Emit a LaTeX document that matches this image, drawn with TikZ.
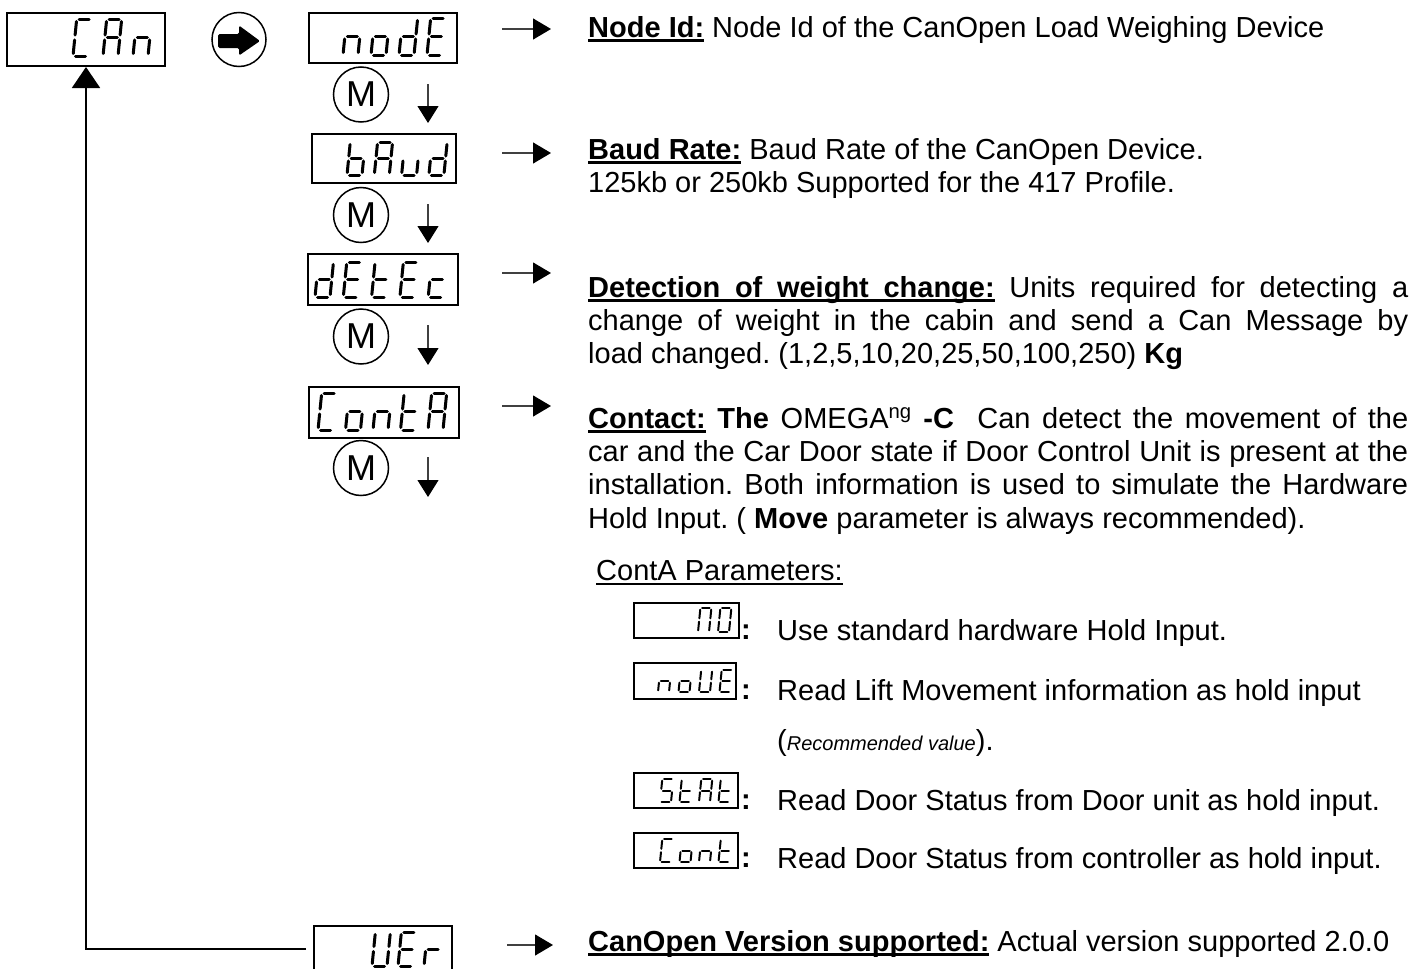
\documentclass[tikz,border=0pt]{standalone}
\usepackage{fontspec}
\setmainfont{Liberation Sans}
\usetikzlibrary{arrows.meta}
\frenchspacing
\newsavebox\ulbx
\newcommand\hul[1]{\sbox\ulbx{#1}\rlap{\rule[-5pt]{\wd\ulbx}{2.6pt}}\usebox\ulbx}
\newcommand\hulthin[1]{\sbox\ulbx{#1}\rlap{\rule[-4.5pt]{\wd\ulbx}{1.6pt}}\usebox\ulbx}
\newcommand\ulsp{\leaders\hrule height -2.4pt depth 5pt\hskip\fontdimen2\font plus\fontdimen3\font minus\fontdimen4\font\relax}
% seven segment definitions
\def\segA{0/1/1/1}
\def\segB{1/1/1/.5}
\def\segC{1/.5/1/0}
\def\segD{0/0/1/0}
\def\segE{0/0/0/.5}
\def\segF{0/.5/0/1}
\def\segG{0/.5/1/.5}
\edef\SSGC{\segA,\segD,\segE,\segF}
\edef\SSGA{\segA,\segB,\segC,\segE,\segF,\segG}
\edef\SSGn{\segC,\segE,\segG}
\edef\SSGo{\segC,\segD,\segE,\segG}
\edef\SSGd{\segB,\segC,\segD,\segE,\segG}
\edef\SSGE{\segA,\segD,\segE,\segF,\segG}
\edef\SSGb{\segC,\segD,\segE,\segF,\segG}
\edef\SSGu{\segC,\segD,\segE}
\edef\SSGt{\segD,\segE,\segF,\segG}
\edef\SSGc{\segD,\segE,\segG}
\edef\SSGU{\segB,\segC,\segD,\segE,\segF}
\edef\SSGr{\segE,\segG}
\edef\SSGS{\segA,\segC,\segD,\segF,\segG}
\edef\SSGP{\segA,\segB,\segC,\segE,\segF}
\edef\SSGO{\segA,\segB,\segC,\segD,\segE,\segF}
\newcommand\ssword[7][segbig]{%
  \foreach \L [count=\i from 0] in {#7}{%
    \edef\cur{\csname SSG\L\endcsname}%
    \begin{scope}[shift={({#2+\i*#6},#3)},x={(#4pt,0pt)},y={(0pt,#5pt)},xslant=0.1]
      \foreach \xa/\ya/\xb/\yb in \cur {\draw[#1] (\xa,\ya) -- (\xb,\yb);}
    \end{scope}}}
\begin{document}
\begin{tikzpicture}[x=1pt,y=-1pt,
  txt/.style={inner sep=0pt, anchor=base west, font=\fontsize{29}{33}\selectfont},
  disp/.style={draw, line width=2pt, inner sep=0pt},
  segbig/.style={line width=3pt, line cap=round, shorten <=2.5pt, shorten >=2.5pt},
  segsmall/.style={line width=2pt, line cap=round, shorten <=1.7pt, shorten >=1.7pt},
  mcirc/.style={circle, draw, line width=1.5pt, minimum size=55pt, inner sep=0pt, font=\fontsize{36}{36}\selectfont},
  rarrow/.style={line width=1.2pt, draw=black!75, -{Triangle[length=18pt,width=21pt,color=black]}},
  darrow/.style={line width=1.1pt, draw=black!75, -{Triangle[length=17pt,width=21pt,color=black]}},
  conn/.style={line width=1.8pt, -{Triangle[length=21pt,width=28pt]}}]
\useasboundingbox (0,0) rectangle (1425,969);
\clip (0,0) rectangle (1425,969);
\fill[white] (0,0) rectangle (1425,969);

% display boxes
\node[disp, minimum width=158pt, minimum height=53pt] (CAn) at (86,39.5) {};
\node[disp, minimum width=148pt, minimum height=50pt] (nodE) at (383,38) {};
\node[disp, minimum width=144pt, minimum height=49pt] (bAud) at (384,158.5) {};
\node[disp, minimum width=150pt, minimum height=51pt] (dEtEc) at (383,279.5) {};
\node[disp, minimum width=150pt, minimum height=51pt] (ContA) at (384,412.5) {};
\node[disp, minimum width=138pt, minimum height=64pt] (UEr) at (383,958) {};
\node[disp, minimum width=105pt, minimum height=35pt] (P1) at (686.5,620.5) {};
\node[disp, minimum width=102pt, minimum height=36pt] (P2) at (685,681) {};
\node[disp, minimum width=104pt, minimum height=35pt] (P3) at (686,790.5) {};
\node[disp, minimum width=104pt, minimum height=35pt] (P4) at (686,850.5) {};

% seven segment texts
\ssword{73}{56}{15}{37}{30}{C,A,n}
\ssword{343}{55}{15}{37}{28}{n,o,d,E}
\ssword{347}{175}{15}{33}{27.3}{b,A,u,d}
\ssword{315}{297}{15}{35}{28.3}{d,E,t,E,c}
\ssword{318}{430}{15}{37}{27.5}{C,o,n,t,A}
\ssword{372}{966}{15}{34}{26}{U,E,r}
\ssword[segsmall]{698}{632}{11}{24}{20}{P,O}
\ssword[segsmall]{658}{692}{11}{22}{20.5}{n,o,U,E}
\ssword[segsmall]{660}{802}{11}{23}{19.5}{S,t,A,t}
\ssword[segsmall]{660}{862}{11}{23}{19.5}{C,o,n,t}

% circled arrow
\node[circle, draw, line width=1.5pt, minimum size=54pt, inner sep=0pt] (go) at (239,39.5) {};
\begin{scope}[shift={(go.center)}]
\fill[rounded corners=1.5pt] (-21,-5.5) -- (0,-5.5) -- (0,-14) -- (21,1.5) -- (0,16) -- (0,8.5) -- (-21,8.5) -- cycle;
\end{scope}

% M circles
\node[mcirc] (m1) at (361,94.5) {M};
\node[mcirc] (m2) at (361,215) {M};
\node[mcirc] (m3) at (361,336.5) {M};
\node[mcirc] (m4) at (361,468) {M};

% down arrows
\coordinate (d1s) at (428,84); \coordinate (d1e) at (428,123);
\coordinate (d2s) at (428,204); \coordinate (d2e) at (428,243);
\coordinate (d3s) at (428,325); \coordinate (d3e) at (428,365);
\coordinate (d4s) at (428,457); \coordinate (d4e) at (428,497);
\draw[darrow] (d1s) -- (d1e);
\draw[darrow] (d2s) -- (d2e);
\draw[darrow] (d3s) -- (d3e);
\draw[darrow] (d4s) -- (d4e);

% right arrows
\coordinate (r1s) at (502,29);  \coordinate (r1e) at (551,29);
\coordinate (r2s) at (502,153); \coordinate (r2e) at (551,153);
\coordinate (r3s) at (502,273); \coordinate (r3e) at (551,273);
\coordinate (r4s) at (502,406); \coordinate (r4e) at (551,406);
\coordinate (r5s) at (507,945); \coordinate (r5e) at (553,945);
\draw[rarrow] (r1s) -- (r1e);
\draw[rarrow] (r2s) -- (r2e);
\draw[rarrow] (r3s) -- (r3e);
\draw[rarrow] (r4s) -- (r4e);
\draw[rarrow] (r5s) -- (r5e);

% return connector
\coordinate (back) at (306,949);
\draw[conn] (back) -| (CAn.south);

% texts
\node[txt] (tnode) at (588,37) {\textbf{\hul{Node}\ulsp\hul{Id:}} Node Id of the CanOpen Load Weighing Device};
\node[txt] (tbaud1) at (588,159) {\textbf{\hul{Baud}\ulsp\hul{Rate:}} Baud Rate of the CanOpen Device.};
\node[txt] (tbaud2) at (588,192) {125kb or 250kb Supported for the 417 Profile.};
\node[txt] (tdet1) at (588,297) {\makebox[820pt][s]{\textbf{\hul{Detection}\ulsp\hul{of}\ulsp\hul{weight}\ulsp\hul{change:}} Units required for detecting a}};
\node[txt] (tdet2) at (588,330) {\makebox[820pt][s]{change of weight in the cabin and send a Can Message by}};
\node[txt] (tdet3) at (588,363) {load changed. (1,2,5,10,20,25,50,100,250) \textbf{Kg}};
\node[txt] (tcon1) at (588,428) {\makebox[820pt][s]{\textbf{\hul{Contact:} The} OMEGA\textsuperscript{ng} \textbf{-C}\ \ Can detect the movement of the}};
\node[txt] (tcon2) at (588,461.3) {\makebox[820pt][s]{car and the Car Door state if Door Control Unit is present at the}};
\node[txt] (tcon3) at (588,494.6) {\makebox[820pt][s]{installation. Both information is used to simulate the Hardware}};
\node[txt] (tcon4) at (588,528) {Hold Input. ( \textbf{Move} parameter is always recommended).};
\node[txt] (tpar) at (596,580) {\hulthin{ContA Parameters:}};

\node[txt] (c1) at (741,639) {\textbf{:}};
\node[txt] (c2) at (741,699) {\textbf{:}};
\node[txt] (c3) at (741,809) {\textbf{:}};
\node[txt] (c4) at (741,867) {\textbf{:}};
\node[txt] (p1) at (777,640) {Use standard hardware Hold Input.};
\node[txt] (p2) at (777,700) {Read Lift Movement information as hold input};
\node[txt] (p2b) at (777,750) {(\textit{\fontsize{20}{24}\selectfont Recommended value}).};
\node[txt] (p3) at (777,810) {Read Door Status from Door unit as hold input.};
\node[txt] (p4) at (777,868) {Read Door Status from controller as hold input.};

\node[txt] (tver) at (588,951) {\textbf{\hul{CanOpen}\ulsp\hul{Version}\ulsp\hul{supported:}} Actual version supported 2.0.0};
\end{tikzpicture}
\end{document}
